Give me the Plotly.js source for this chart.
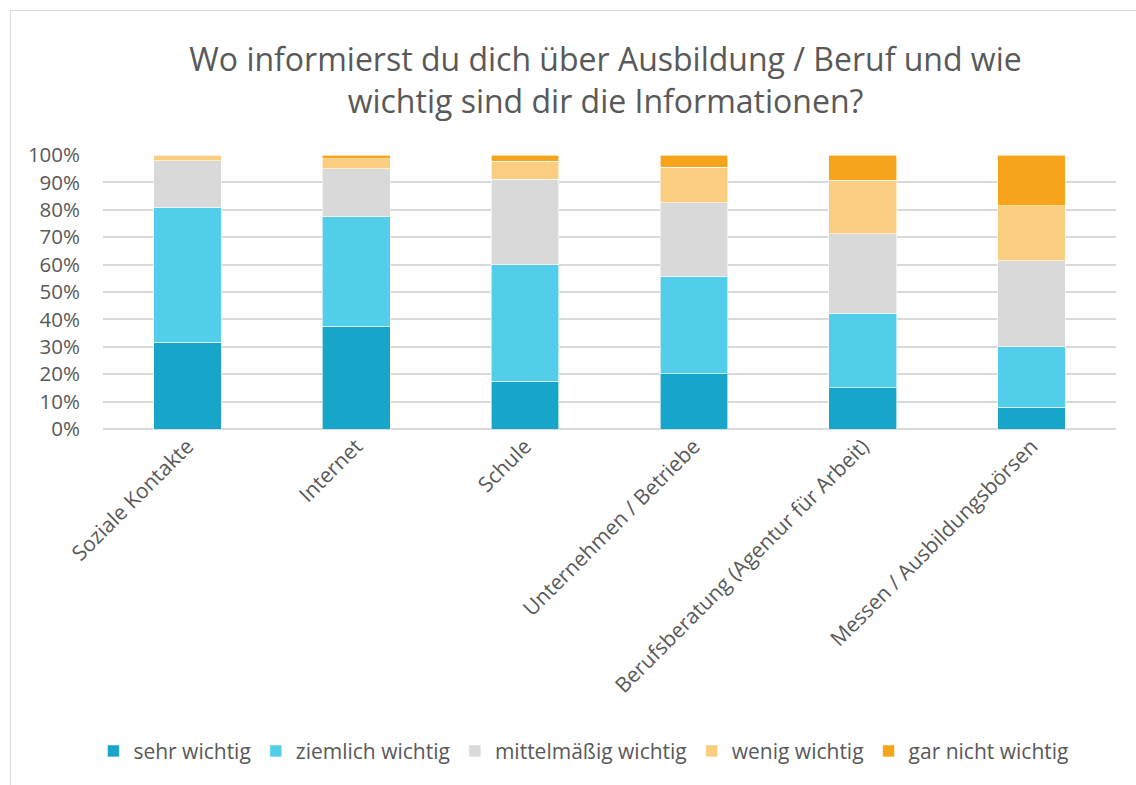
<!DOCTYPE html>
<html>
<head>
<meta charset="utf-8">
<script src="https://cdn.plot.ly/plotly-3.0.1.min.js"></script>
<style>
  html, body { margin: 0; padding: 0; background: #fff; }
  #wrap { position: relative; width: 1136px; height: 785px; overflow: hidden; }
  #chart { width: 1136px; height: 785px; }
  #frame { position: absolute; left: 10px; top: 10px; width: 1300px; height: 1000px;
           border-left: 1.5px solid #d9d9d9; border-top: 1.5px solid #d9d9d9; pointer-events: none; }
</style>
</head>
<body>
<div id="wrap">
  <div id="chart"></div>
  <div id="frame"></div>
</div>
<script>
const categories = ["Soziale Kontakte", "Internet", "Schule", "Unternehmen / Betriebe",
                    "Berufsberatung (Agentur für Arbeit)", "Messen / Ausbildungsbörsen"];
const seriesNames = ["sehr wichtig", "ziemlich wichtig", "mittelmäßig wichtig", "wenig wichtig", "gar nicht wichtig"];
const sehrWichtig      = [31.6, 37.5, 17.4, 20.2, 15.1, 7.9];
const ziemlichWichtig  = [49.4, 40.0, 42.6, 35.5, 27.1, 22.1];
const mittelWichtig    = [16.9, 17.5, 31.2, 26.9, 29.0, 31.4];
const wenigWichtig     = [1.9, 3.7, 6.5, 12.9, 19.6, 20.1];
const garNichtWichtig  = [0.2, 1.3, 2.3, 4.5, 9.2, 18.5];
const seriesValues = [sehrWichtig, ziemlichWichtig, mittelWichtig, wenigWichtig, garNichtWichtig];
const colors = ["#17A6C9", "#52CEEA", "#D9D9D9", "#FACD81", "#F6A51A"];
const yTickVals = [0, 10, 20, 30, 40, 50, 60, 70, 80, 90, 100];
const yTickText = ["0%", "10%", "20%", "30%", "40%", "50%", "60%", "70%", "80%", "90%", "100%"];

const traces = seriesNames.map((name, i) => ({
  type: "bar",
  name: name,
  x: categories,
  y: seriesValues[i],
  marker: { color: colors[i], line: { color: "#ffffff", width: 0.6 } },
  hoverinfo: "x+y+name"
}));

const textColor = "#595959";
const layout = {
  width: 1136,
  height: 785,
  barmode: "stack",
  bargap: 0.6,
  paper_bgcolor: "#ffffff",
  plot_bgcolor: "#ffffff",
  font: { family: "Open Sans, sans-serif", color: textColor, size: 21 },
  margin: { l: 103, r: 20, t: 155, b: 356 },
  title: {
    text: "Wo informierst du dich über Ausbildung / Beruf und wie<br>wichtig sind dir die Informationen?",
    font: { family: "Open Sans, sans-serif", size: 32, color: textColor },
    x: 0.533, xref: "container", xanchor: "center",
    y: 0.909, yref: "container", yanchor: "top"
  },
  xaxis: {
    type: "category",
    tickangle: -45,
    tickfont: { size: 21, color: textColor },
    showgrid: false,
    showline: false,
    zeroline: false,
    ticks: "",
    automargin: false
  },
  yaxis: {
    range: [0, 100],
    tickvals: yTickVals,
    ticktext: yTickText,
    tickfont: { size: 20.5, color: textColor },
    showgrid: true,
    gridcolor: "#d9d9d9",
    gridwidth: 1.5,
    zeroline: true,
    zerolinecolor: "#d9d9d9",
    zerolinewidth: 1.5,
    ticks: "",
    ticklabelstandoff: 22,
    automargin: false,
    fixedrange: true
  },
  legend: {
    orientation: "h",
    x: 0.514, xanchor: "center", xref: "container",
    y: 0.043, yanchor: "middle", yref: "container",
    font: { size: 21, color: textColor },
    traceorder: "normal",
    itemwidth: 30,
    tracegroupgap: 0
  },
  showlegend: true
};

Plotly.newPlot("chart", traces, layout, { displayModeBar: false, staticPlot: false });
</script>
</body>
</html>
